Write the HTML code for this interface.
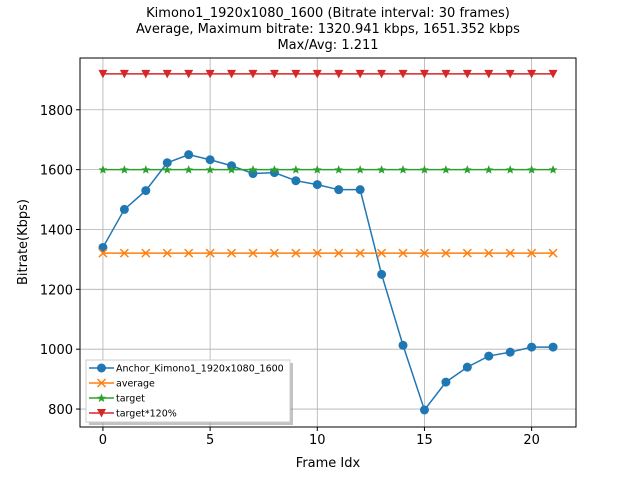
<!DOCTYPE html>
<html><head><meta charset="utf-8"><style>
body{margin:0;background:#fff;}
svg{display:block;font-family:"DejaVu Sans","Liberation Sans",sans-serif;}
</style></head><body>
<svg id="chart" width="640" height="480">
<text x="328" y="17" text-anchor="middle" font-size="13">Kimono1_1920x1080_1600 (Bitrate interval: 30 frames)</text>
<text x="328" y="33" text-anchor="middle" font-size="13">Average, Maximum bitrate: 1320.941 kbps, 1651.352 kbps</text>
<text x="328" y="49" text-anchor="middle" font-size="13">Max/Avg: 1.211</text>
<g id="grid"></g>
<g id="series"></g>
<rect x="80" y="58" width="496" height="369" fill="none" stroke="#000" stroke-width="1"/>
<g id="ticks"></g>
<text x="328" y="467" text-anchor="middle" font-size="13">Frame Idx</text>
<text transform="translate(27,242) rotate(-90)" text-anchor="middle" font-size="13">Bitrate(Kbps)</text>
<g id="legend"></g>
</svg>
<script>
const frames=[0,1,2,3,4,5,6,7,8,9,10,11,12,13,14,15,16,17,18,19,20,21];
const bitrate=[1340,1467,1530,1623,1650,1633,1613,1587,1590,1563,1550,1533,1533,1250,1013,797,890,940,977,990,1007,1007];
const average=1321;
const target=1600;
const target120=1920;
const xTicks=[0,5,10,15,20];
const yTicks=[800,1000,1200,1400,1600,1800];
const NS="http://www.w3.org/2000/svg";
const X0=80,X1=576,Y0=58,Y1=427,xmin=-1.07,xmax=22.07,ymin=740,ymax=1973;
function sx(v){return X0+(v-xmin)/(xmax-xmin)*(X1-X0);}
function sy(v){return Y1-(v-ymin)/(ymax-ymin)*(Y1-Y0);}
function mk(t,a,p){const e=document.createElementNS(NS,t);for(const k in a)e.setAttribute(k,a[k]);p.appendChild(e);return e;}
const grid=document.getElementById('grid'),ticks=document.getElementById('ticks'),ser=document.getElementById('series'),leg=document.getElementById('legend');
xTicks.forEach(t=>{const x=sx(t);
 const g=mk('line',{x1:x,x2:x,y1:Y0,y2:Y1,stroke:'#b0b0b0','stroke-width':0.8},grid);
 
 
 mk('line',{x1:x,x2:x,y1:Y1,y2:Y1+4,stroke:'#000'},ticks);
 const l=mk('text',{x:x,y:Y1+17,'text-anchor':'middle','font-size':13},ticks);l.textContent=t;
 
 });
yTicks.forEach(t=>{const y=sy(t);
 const g=mk('line',{x1:X0,x2:X1,y1:y,y2:y,stroke:'#b0b0b0','stroke-width':0.8},grid);
 
 
 mk('line',{x1:X0-4,x2:X0,y1:y,y2:y,stroke:'#000'},ticks);
 const l=mk('text',{x:X0-7,y:y+5,'text-anchor':'end','font-size':13},ticks);l.textContent=t;
 
 });
function marker(kind,x,y,c,p){
 if(kind==='o')return mk('circle',{cx:x,cy:y,r:4.5,fill:c},p);
 if(kind==='x')return mk('path',{d:`M${x-4},${y-4}L${x+4},${y+4}M${x-4},${y+4}L${x+4},${y-4}`,stroke:c,'stroke-width':1.5},p);
 if(kind==='*')return mk('path',{d:`M${x},${y-4.5}L${x+1.3},${y-1.2}L${x+4.3},${y-1.2}L${x+2},${y+1}L${x+2.8},${y+4}L${x},${y+2.2}L${x-2.8},${y+4}L${x-2},${y+1}L${x-4.3},${y-1.2}L${x-1.3},${y-1.2}Z`,fill:c},p);
 return mk('path',{d:`M${x-4.5},${y-4}L${x+4.5},${y-4}L${x},${y+4.5}Z`,fill:c},p);}
const series=[
 {name:'Anchor_Kimono1_1920x1080_1600',vals:bitrate,c:'#1f77b4',m:'o',id:'series-bitrate'},
 {name:'average',vals:frames.map(()=>average),c:'#ff7f0e',m:'x',id:'series-average'},
 {name:'target',vals:frames.map(()=>target),c:'#2ca02c',m:'*',id:'series-target'},
 {name:'target*120%',vals:frames.map(()=>target120),c:'#d62728',m:'v',id:'series-target-120'}];
series.forEach(s=>{
 const g=mk('g',{},ser);
 
 
 mk('polyline',{points:frames.map((f,i)=>sx(f)+','+sy(s.vals[i])).join(' '),fill:'none',stroke:s.c,'stroke-width':1.5},g);
 frames.forEach((f,i)=>{const m=marker(s.m,sx(f),sy(s.vals[i]),s.c,g);
  
  });});
mk('rect',{x:89,y:363,width:204,height:62,fill:'#999','fill-opacity':0.6},leg);
const lb=mk('rect',{x:86,y:360,width:204,height:62,fill:'#fff',stroke:'#ccc'},leg);


series.forEach((s,i)=>{const y=368+i*15;
 const g=mk('g',{},leg);
 
 
 mk('line',{x1:89,x2:114,y1:y,y2:y,stroke:s.c,'stroke-width':1.5},g);
 marker(s.m,101.5,y,s.c,g);
 const t=mk('text',{x:116,y:y+3.5,'font-size':9.5},g);t.textContent=s.name;});
</script>
</body></html>
